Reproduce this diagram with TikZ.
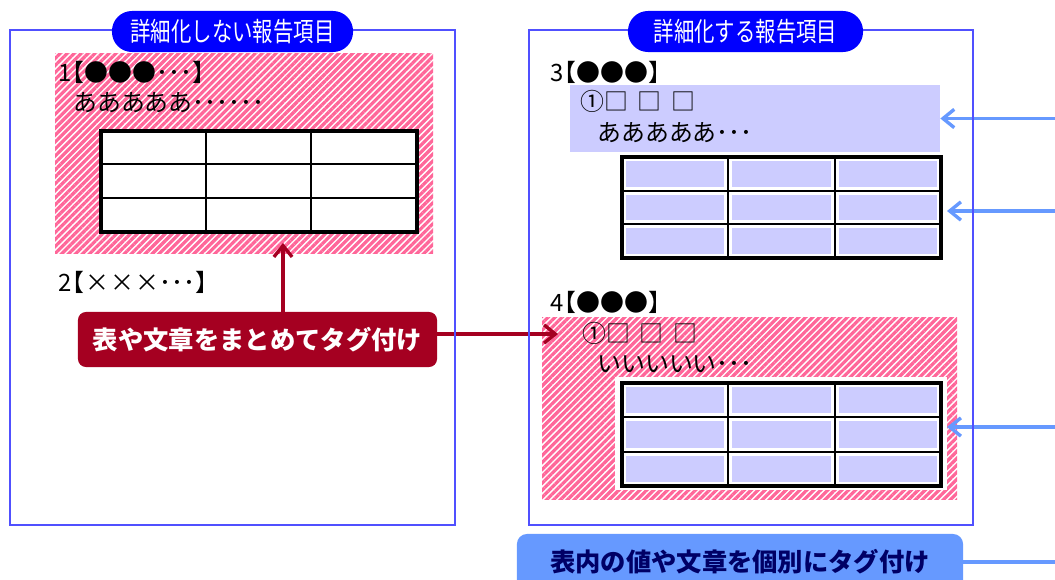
\documentclass[tikz,border=0pt]{standalone}
\usepackage{graphicx}
\usepackage{fontspec}
\setmainfont{Noto Sans CJK JP}
\usetikzlibrary{arrows.meta,patterns.meta,positioning}

\definecolor{frameblue}{RGB}{80,80,255}
\definecolor{pillblue}{RGB}{0,0,255}
\definecolor{stripepink}{RGB}{255,102,153}
\definecolor{cellblue}{RGB}{204,204,255}
\definecolor{tagred}{RGB}{165,0,33}
\definecolor{tagblue}{RGB}{102,153,255}
\definecolor{tagnavy}{RGB}{0,0,102}

\newcommand{\itemno}[1]{#1\kern-0.45em}
\newcommand{\wide}[1]{\makebox[1.05em]{#1}}
\newcommand{\gap}{\hspace{0.4em}}

\tikzset{
  pill/.style={fill=pillblue, text=white, rounded corners=0.5cm,
    minimum height=1.025cm, inner sep=0pt, font=\fontsize{14.5}{16}\selectfont},
  stripes/.style={pattern={Lines[angle=45,distance=3.5pt,line width=2.3pt]},
    pattern color=stripepink},
  body/.style={anchor=west, inner sep=0pt, font=\fontsize{17}{19}\selectfont},
  tagbtn/.style={inner sep=0pt, font=\bfseries\fontsize{18}{20}\selectfont},
  redarrow/.style={draw=tagred, line width=2.4pt,
    -{Straight Barb[length=8pt,width=13pt]}},
  bluearrow/.style={draw=tagblue, line width=2.4pt,
    -{Straight Barb[length=8pt,width=13pt]}},
}

\begin{document}
\begin{tikzpicture}[x=0.025cm,y=-0.025cm]

\useasboundingbox (0,0) rectangle (1055,580);

% Left: items kept whole
\begin{scope}

\fill[white] (55,53) rectangle (433,253);
\fill[stripes] (55,53) rectangle (433,253);

\node[body] (item1) at (58,72) {\itemno{1}【●●●･･･】};
\node[body] (text1) at (73,103) {あああああ･･････};

% Table
\begin{scope}[shift={(101,131)}]
\fill[white] (0,0) rectangle (316,101);
\foreach \c in {105,210} \draw[line width=0.8pt] (\c,0) -- (\c,101);
\foreach \r in {33,67} \draw[line width=0.8pt] (0,\r) -- (316,\r);
\draw[line width=2.2pt] (0,0) rectangle (316,101);
\end{scope}

\node[body] (item2) at (58,282) {\itemno{2}【\wide{×}\wide{×}\wide{×}･･･】};

\end{scope}

% Right: items split up
\begin{scope}

\node[body] (item3) at (550,72) {\itemno{3}【●●●】};

\node[fill=cellblue, minimum width=9.25cm, minimum height=1.675cm,
  inner sep=0pt] (box3) at (755,118.5) {};
\node[body] (head3) at (580,101) {①□\gap□\gap□};
\node[body] (text3) at (597,133) {あああああ･･･};

% Table
\begin{scope}[shift={(622,157)}]
\fill[white] (0,0) rectangle (319,101);
\foreach \i in {0,1,2} \foreach \j in {0,1,2}
  \fill[cellblue] (\i*106.33+4,\j*33.67+4) rectangle ++(98.33,25.67);
\foreach \c in {106.33,212.67} \draw[line width=1.2pt] (\c,0) -- (\c,101);
\foreach \r in {33.67,67.33} \draw[line width=1.2pt] (0,\r) -- (319,\r);
\draw[line width=2.2pt] (0,0) rectangle (319,101);
\end{scope}

\node[body] (item4) at (550,302) {\itemno{4}【●●●】};

\fill[white] (542,317) rectangle (957,499);
\fill[stripes] (542,317) rectangle (957,499);
\fill[white] (615,377) rectangle (947,490);

\node[body] (head4) at (582,333) {①□\gap□\gap□};
\node[body] (text4) at (597,364) {いいいいい･･･};

% Table
\begin{scope}[shift={(622,383)}]
\fill[white] (0,0) rectangle (319,103);
\foreach \i in {0,1,2} \foreach \j in {0,1,2}
  \fill[cellblue] (\i*106.33+4,\j*34.33+4) rectangle ++(98.33,26.33);
\foreach \c in {106.33,212.67} \draw[line width=1.2pt] (\c,0) -- (\c,103);
\foreach \r in {34.33,68.67} \draw[line width=1.2pt] (0,\r) -- (319,\r);
\draw[line width=2.2pt] (0,0) rectangle (319,103);
\end{scope}

\end{scope}

% Tagging buttons and arrows
\node[tagbtn, fill=tagred, text=white, rounded corners=0.2cm,
  minimum width=8.975cm, minimum height=1.375cm] (btnwhole) at (257.5,339.5)
  {表や文章をまとめてタグ付け};
\node[tagbtn, fill=tagblue, text=tagnavy, rounded corners=0.25cm,
  minimum width=11.15cm, minimum height=1.4cm] (btnsplit) at (740,562)
  {表内の値や文章を個別にタグ付け};

\coordinate (edge) at (1055,0);
\coordinate (tipL) at (283,243);
\coordinate (tip4) at (558,334);
\coordinate (tipA) at (947,211);
\coordinate (tipB) at (947,427);

\draw[redarrow] (tipL |- btnwhole.north) -- (tipL);
\draw[redarrow] (btnwhole.east |- tip4) -- (tip4);

\draw[bluearrow] (box3.east -| edge) -- (box3.east);
\draw[bluearrow] (tipA -| edge) -- (tipA);
\draw[bluearrow] (tipB -| edge) -- (tipB);
\draw[tagblue, line width=2.4pt] (btnsplit.east) -- (btnsplit.east -| edge);

% Frames
\draw[frameblue, line width=0.8pt] (10,30) rectangle (455,525);
\draw[frameblue, line width=0.8pt] (529,30) rectangle (973,525);

\node[pill, minimum width=6.025cm] (titleL) at (232.5,31.5)
  {\scalebox{1}[1.3]{詳細化しない報告項目}};
\node[pill, minimum width=5.875cm] (titleR) at (745.5,31.5)
  {\scalebox{1}[1.3]{詳細化する報告項目}};

\end{tikzpicture}
\end{document}
